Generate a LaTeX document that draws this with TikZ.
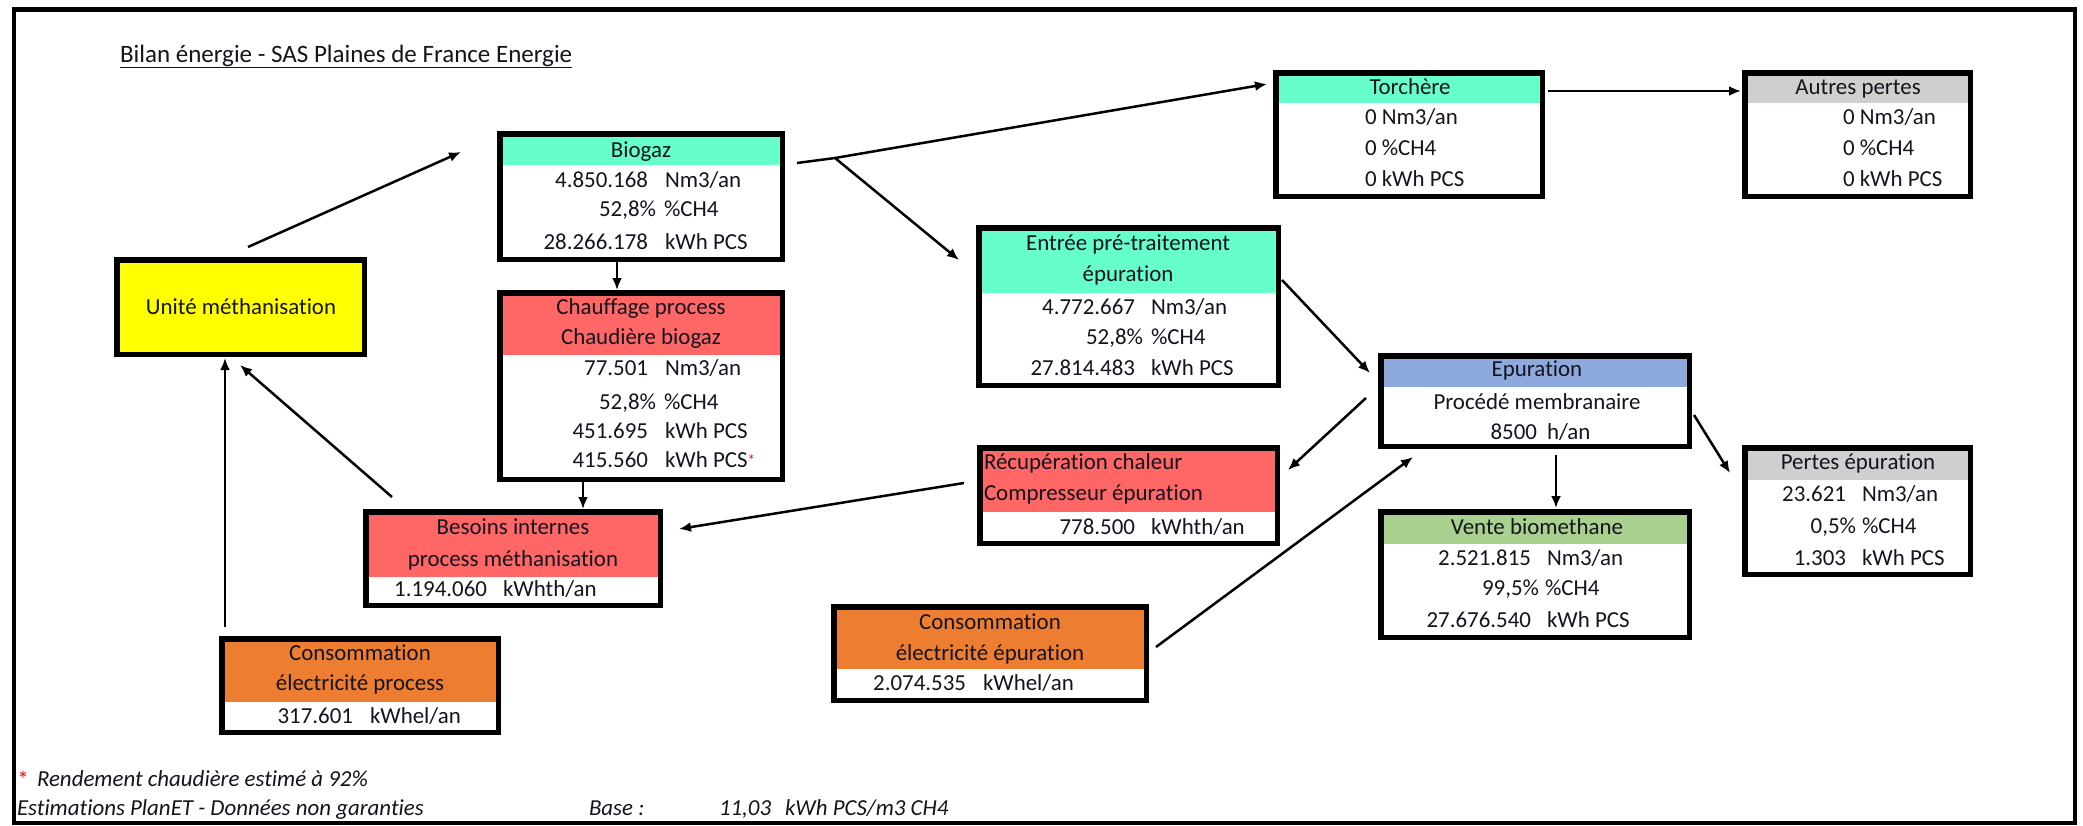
\documentclass[tikz,border=0pt]{standalone}
\usepackage{fontspec}
\setmainfont{Carlito}[Ligatures={NoCommon,NoContextual,NoRare}]
\usetikzlibrary{arrows.meta,fit}
\definecolor{cTeal}{RGB}{102,255,204}
\definecolor{cRed}{RGB}{255,102,102}
\definecolor{cOrange}{RGB}{237,125,49}
\definecolor{cBlue}{RGB}{142,169,219}
\definecolor{cGreen}{RGB}{169,208,142}
\definecolor{cGrey}{RGB}{208,206,206}
\definecolor{cYellow}{RGB}{255,255,0}
\definecolor{cText}{RGB}{20,20,30}
% name, x1, y1, x2, y2, header bottom, colour
\newcommand\flowbox[7]{%
  \fill[white] (#2,#3) rectangle (#4,#5);
  \fill[#7] (#2,#3) rectangle (#4,#6);
  \node[draw, line width=5.5pt, fit={(#2+2.75,#3+2.75) (#4-2.75,#5-2.75)}] (#1) {};
}
% name, number right end, unit left, baseline, number, unit
\newcommand\vrow[6]{%
  \node[anchor=base east] (#1n) at (#2,#4) {#5};
  \node[anchor=base west] (#1u) at (#3,#4) {#6};
}
\begin{document}
\begin{tikzpicture}[x=1pt,y=-1pt,
  every node/.style={font=\fontsize{22.9}{27}\selectfont, text=cText, inner sep=0pt, outer sep=0pt},
  arr/.style={line width=2.5pt, -{Latex[length=12pt,width=10pt]}},
  ln/.style={line width=2.5pt}]
\useasboundingbox (0,0) rectangle (2083,825);
\fill[white] (0,0) rectangle (2083,825);
\draw[line width=4.5pt] (14,9.5) rectangle (2075,823);

% title
\node[anchor=base west, font=\fontsize{25}{29}\selectfont] (title) at (120,62) {\underline{Bilan énergie - SAS Plaines de France Energie}};

% boxes
\flowbox{unite}{114}{257}{367}{357}{357}{cYellow}
\node[anchor=base] (unitet) at (241,314) {Unité méthanisation};

\flowbox{biogaz}{497}{131}{785}{262}{165}{cTeal}
\node[anchor=base] (biogazh) at (641,157) {Biogaz};
\vrow{bio1}{648}{665}{187}{4.850.168}{Nm3/an}
\vrow{bio2}{656}{664}{216}{52,8\%}{\%CH4}
\vrow{bio3}{648}{665}{249}{28.266.178}{kWh PCS}

\flowbox{chauf}{497}{290}{785}{482}{355}{cRed}
\node[anchor=base] (chaufh1) at (641,314) {Chauffage process};
\node[anchor=base] (chaufh2) at (641,344) {Chaudière biogaz};
\vrow{ch1}{648}{665}{375}{77.501}{Nm3/an}
\vrow{ch2}{656}{664}{409}{52,8\%}{\%CH4}
\vrow{ch3}{648}{665}{438}{451.695}{kWh PCS}
\vrow{ch4}{648}{665}{467}{415.560}{kWh PCS{\color{red}\fontsize{15}{15}\selectfont\raisebox{2pt}{*}}}

\flowbox{besoins}{363}{509}{663}{608}{577}{cRed}
\node[anchor=base] (besoinsh1) at (513,534) {Besoins internes};
\node[anchor=base] (besoinsh2) at (513,566) {process méthanisation};
\vrow{bes}{487}{503}{596}{1.194.060}{kWhth/an}

\flowbox{cproc}{219}{636}{501}{735}{702}{cOrange}
\node[anchor=base] (cproch1) at (360,660) {Consommation};
\node[anchor=base] (cproch2) at (360,690) {électricité process};
\vrow{cp}{353}{370}{723}{317.601}{kWhel/an}

\flowbox{entree}{976}{225}{1281}{388}{293}{cTeal}
\node[anchor=base] (entreeh1) at (1128,250) {Entrée pré-traitement};
\node[anchor=base] (entreeh2) at (1128,281) {épuration};
\vrow{en1}{1135}{1151}{314}{4.772.667}{Nm3/an}
\vrow{en2}{1143}{1151}{344}{52,8\%}{\%CH4}
\vrow{en3}{1135}{1151}{375}{27.814.483}{kWh PCS}

\flowbox{torch}{1273}{70}{1545}{199}{103}{cTeal}
\node[anchor=base] (torchh) at (1410,94) {Torchère};
\node[anchor=base west] (to1) at (1365,124) {0 Nm3/an};
\node[anchor=base west] (to2) at (1365,155) {0 \%CH4};
\node[anchor=base west] (to3) at (1365,186) {0 kWh PCS};

\flowbox{autres}{1742}{70}{1973}{199}{103}{cGrey}
\node[anchor=base] (autresh) at (1858,94) {Autres pertes};
\node[anchor=base west] (au1) at (1843,124) {0 Nm3/an};
\node[anchor=base west] (au2) at (1843,155) {0 \%CH4};
\node[anchor=base west] (au3) at (1843,186) {0 kWh PCS};

\flowbox{epur}{1378}{353}{1692}{449}{387}{cBlue}
\node[anchor=base] (epurh) at (1537,376) {Epuration};
\node[anchor=base] (epur1) at (1537,409) {Procédé membranaire};
\vrow{ep2}{1537}{1547}{439}{8500}{h/an}

\flowbox{vente}{1378}{509}{1692}{640}{544}{cGreen}
\node[anchor=base] (venteh) at (1537,534) {Vente biomethane};
\vrow{ve1}{1531}{1547}{565}{2.521.815}{Nm3/an}
\vrow{ve2}{1539}{1545}{595}{99,5\%}{\%CH4}
\vrow{ve3}{1531}{1547}{627}{27.676.540}{kWh PCS}

\flowbox{pertes}{1742}{445}{1973}{577}{480}{cGrey}
\node[anchor=base] (pertesh) at (1858,469) {Pertes épuration};
\vrow{pe1}{1846}{1862}{501}{23.621}{Nm3/an}
\vrow{pe2}{1856}{1862}{533}{0,5\%}{\%CH4}
\vrow{pe3}{1846}{1862}{565}{1.303}{kWh PCS}

\flowbox{recup}{977}{445}{1280}{546}{512}{cRed}
\node[anchor=base west] (recuph1) at (984,469) {Récupération chaleur};
\node[anchor=base west] (recuph2) at (984,500) {Compresseur épuration};
\vrow{re}{1135}{1151}{534}{778.500}{kWhth/an}

\flowbox{cepur}{831}{604}{1149}{703}{669}{cOrange}
\node[anchor=base] (cepurh1) at (990,629) {Consommation};
\node[anchor=base] (cepurh2) at (990,660) {électricité épuration};
\vrow{ce}{966}{983}{690}{2.074.535}{kWhel/an}

% connector end points
\coordinate (unite-out) at (248,247);
\coordinate (biogaz-in) at (461,152);
\coordinate (biogaz-out) at (797,163);
\coordinate (split) at (835,158);
\coordinate (torch-in) at (1267,84);
\coordinate (entree-in) at (959,260);
\coordinate (biogaz-down) at (617,262);
\coordinate (chauf-in) at (617,290);
\coordinate (chauf-down) at (583,482);
\coordinate (besoins-in) at (583,509);
\coordinate (entree-out) at (1282,280);
\coordinate (epur-in) at (1370,373);
\coordinate (torch-out) at (1548,91);
\coordinate (autres-in) at (1741,91);
\coordinate (epur-outl) at (1366,398);
\coordinate (recup-in) at (1288,470);
\coordinate (epur-down) at (1556,455);
\coordinate (vente-in) at (1556,508);
\coordinate (epur-outr) at (1694,415);
\coordinate (pertes-in) at (1730,473);
\coordinate (cepur-out) at (1156,647);
\coordinate (epur-inb) at (1413,457);
\coordinate (recup-out) at (964,483);
\coordinate (besoins-inr) at (679,529);
\coordinate (besoins-out) at (392,497);
\coordinate (unite-inr) at (240,365);
\coordinate (cproc-out) at (225,627);
\coordinate (unite-inb) at (225,358);

\draw[arr] (unite-out) -- (biogaz-in);
\draw[ln] (biogaz-out) -- (split);
\draw[arr] (split) -- (torch-in);
\draw[arr] (split) -- (entree-in);
\draw[arr] (biogaz-down) -- (chauf-in);
\draw[arr] (chauf-down) -- (besoins-in);
\draw[arr] (entree-out) -- (epur-in);
\draw[arr] (torch-out) -- (autres-in);
\draw[arr] (epur-outl) -- (recup-in);
\draw[arr] (epur-down) -- (vente-in);
\draw[arr] (epur-outr) -- (pertes-in);
\draw[arr] (cepur-out) -- (epur-inb);
\draw[arr] (recup-out) -- (besoins-inr);
\draw[arr] (besoins-out) -- (unite-inr);
\draw[arr] (cproc-out) -- (unite-inb);

% footer
\node[anchor=base, text=red] (star) at (23,787) {*};
\node[anchor=base west] (note1) at (37,786) {\itshape Rendement chaudière estimé à 92\%};
\node[anchor=base west] (note2) at (17,815) {\itshape Estimations PlanET - Données non garanties};
\node[anchor=base west] (base1) at (589,815) {\itshape Base :};
\node[anchor=base west] (base2) at (719,815) {\itshape 11,03};
\node[anchor=base west] (base3) at (785,815) {\itshape kWh PCS/m3 CH4};
\end{tikzpicture}
\end{document}
